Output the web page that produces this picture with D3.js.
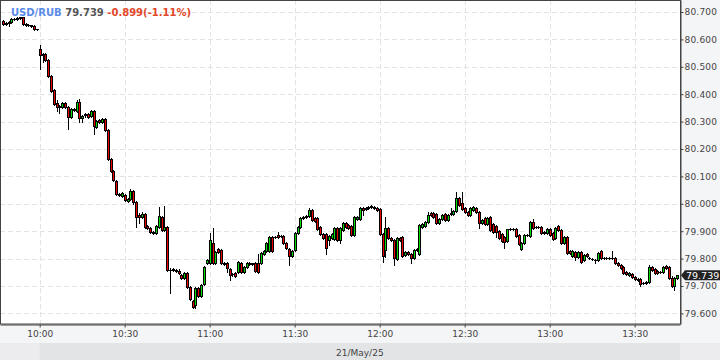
<!DOCTYPE html>
<html>
<head>
<meta charset="utf-8">
<script src="https://cdn.jsdelivr.net/npm/d3@7"></script>
<style>
  html, body { margin: 0; padding: 0; background: #f4f5f7; }
  svg { display: block; font-family: "DejaVu Sans", sans-serif; }
</style>
</head>
<body>
<svg width="720" height="360"></svg>
<script>
// 1-minute bars, first one at 09:47
var firstBar = "09:47";

var opens = [
  80.667, 80.656, 80.660, 80.664, 80.675, 80.675, 80.678, 80.682, 80.656, 80.653, 80.653, 80.649, 80.638,
  80.565, 80.547, 80.547, 80.525, 80.467, 80.415, 80.368, 80.357, 80.353, 80.368,
  80.353, 80.317, 80.346, 80.339, 80.372, 80.313, 80.324, 80.328, 80.321, 80.339,
  80.280, 80.306, 80.299, 80.310, 80.269, 80.164, 80.120, 80.083, 80.036, 80.029,
  80.032, 80.010, 80.018, 80.047, 80.007, 79.959, 79.952, 79.963, 79.919, 79.912,
  79.897, 79.894, 79.915, 79.952, 79.904, 79.915, 79.758, 79.762, 79.758, 79.755,
  79.740, 79.729, 79.748, 79.696, 79.645, 79.631, 79.693, 79.664, 79.707, 79.784,
  79.784, 79.857, 79.784, 79.835, 79.831, 79.784, 79.784, 79.762, 79.744, 79.748,
  79.751, 79.784, 79.751, 79.769, 79.784, 79.780, 79.784, 79.784, 79.784, 79.817,
  79.828, 79.828, 79.879, 79.879, 79.886, 79.883, 79.883, 79.857, 79.835, 79.810,
  79.831, 79.894, 79.915, 79.948, 79.952, 79.956, 79.977, 79.948, 79.948, 79.915,
  79.890, 79.890, 79.868, 79.875, 79.872, 79.912, 79.868, 79.904, 79.930, 79.923,
  79.919, 79.886, 79.945, 79.945, 79.985, 79.981, 79.985, 79.988, 79.988, 79.985,
  79.981, 79.890, 79.831, 79.912, 79.875, 79.868, 79.799, 79.875, 79.879, 79.813,
  79.824, 79.817, 79.802, 79.831, 79.817, 79.915, 79.919, 79.934, 79.967, 79.967,
  79.963, 79.930, 79.945, 79.963, 79.941, 79.967, 79.963, 79.974, 80.021, 80.003,
  79.985, 79.970, 79.959, 79.977, 79.985, 79.970, 79.930, 79.948, 79.926, 79.952,
  79.926, 79.919, 79.901, 79.890, 79.879, 79.864, 79.908, 79.908, 79.908, 79.886,
  79.835, 79.857, 79.886, 79.883, 79.934, 79.915, 79.915, 79.915, 79.897, 79.894,
  79.908, 79.894, 79.875, 79.919, 79.904, 79.857, 79.879, 79.828, 79.810, 79.824,
  79.806, 79.824, 79.795, 79.817, 79.802, 79.799, 79.795, 79.795, 79.828, 79.802,
  79.802, 79.802, 79.802, 79.802, 79.784, 79.777, 79.769, 79.751, 79.740, 79.744,
  79.733, 79.726, 79.726, 79.711, 79.711, 79.715, 79.769, 79.762, 79.755, 79.751,
  79.751, 79.773, 79.769, 79.729, 79.700, 79.729
];

var highs = [
  80.671, 80.664, 80.667, 80.678, 80.678, 80.682, 80.682, 80.682, 80.660, 80.656, 80.653, 80.653, 80.638,
  80.580, 80.551, 80.551, 80.529, 80.470, 80.419, 80.379, 80.361, 80.372, 80.372,
  80.357, 80.350, 80.350, 80.379, 80.383, 80.324, 80.332, 80.332, 80.342, 80.342,
  80.306, 80.310, 80.313, 80.313, 80.273, 80.167, 80.123, 80.087, 80.039, 80.043,
  80.036, 80.021, 80.054, 80.050, 80.010, 79.967, 79.970, 79.967, 79.923, 79.915,
  79.901, 79.923, 79.988, 79.956, 79.992, 79.919, 79.766, 79.766, 79.762, 79.762,
  79.744, 79.751, 79.751, 79.700, 79.649, 79.696, 79.696, 79.707, 79.773, 79.799,
  79.894, 79.912, 79.828, 79.839, 79.835, 79.788, 79.788, 79.766, 79.748, 79.751,
  79.791, 79.788, 79.773, 79.788, 79.788, 79.784, 79.788, 79.817, 79.824, 79.831,
  79.861, 79.883, 79.883, 79.883, 79.897, 79.886, 79.886, 79.861, 79.839, 79.831,
  79.897, 79.919, 79.952, 79.956, 79.959, 79.985, 79.981, 79.952, 79.952, 79.919,
  79.894, 79.894, 79.886, 79.894, 79.915, 79.915, 79.915, 79.934, 79.934, 79.926,
  79.923, 79.956, 79.956, 79.988, 79.988, 79.988, 79.992, 79.996, 79.992, 79.988,
  79.985, 79.894, 79.952, 79.915, 79.879, 79.872, 79.879, 79.879, 79.883, 79.828,
  79.828, 79.821, 79.835, 79.839, 79.926, 79.930, 79.937, 79.970, 79.970, 79.970,
  79.967, 79.948, 79.963, 79.967, 79.963, 79.985, 79.977, 80.043, 80.025, 80.043,
  79.988, 79.974, 79.988, 79.992, 79.988, 79.974, 79.945, 79.952, 79.952, 79.956,
  79.930, 79.923, 79.904, 79.894, 79.883, 79.908, 79.912, 79.912, 79.912, 79.890,
  79.861, 79.890, 79.890, 79.937, 79.945, 79.919, 79.919, 79.919, 79.901, 79.912,
  79.912, 79.897, 79.915, 79.923, 79.908, 79.883, 79.883, 79.831, 79.831, 79.828,
  79.828, 79.828, 79.817, 79.821, 79.806, 79.802, 79.799, 79.824, 79.831, 79.806,
  79.806, 79.806, 79.828, 79.806, 79.788, 79.780, 79.773, 79.755, 79.751, 79.748,
  79.737, 79.729, 79.729, 79.715, 79.718, 79.777, 79.773, 79.766, 79.758, 79.755,
  79.773, 79.777, 79.773, 79.737, 79.733, 79.740
];

var lows = [
  80.653, 80.653, 80.649, 80.660, 80.671, 80.671, 80.675, 80.653, 80.649, 80.649, 80.645, 80.634, 80.634,
  80.492, 80.518, 80.521, 80.463, 80.408, 80.361, 80.339, 80.332, 80.350, 80.350,
  80.273, 80.313, 80.339, 80.335, 80.299, 80.299, 80.317, 80.313, 80.317, 80.255,
  80.277, 80.295, 80.295, 80.266, 80.160, 80.116, 80.083, 80.032, 80.029, 80.025,
  80.010, 80.007, 80.014, 79.999, 79.915, 79.930, 79.948, 79.912, 79.908, 79.894,
  79.890, 79.890, 79.912, 79.901, 79.901, 79.755, 79.675, 79.755, 79.751, 79.744,
  79.726, 79.726, 79.693, 79.649, 79.620, 79.620, 79.660, 79.660, 79.704, 79.780,
  79.780, 79.780, 79.780, 79.821, 79.780, 79.777, 79.751, 79.722, 79.737, 79.733,
  79.748, 79.748, 79.748, 79.766, 79.777, 79.777, 79.751, 79.748, 79.780, 79.813,
  79.824, 79.824, 79.824, 79.875, 79.875, 79.879, 79.853, 79.835, 79.777, 79.806,
  79.828, 79.890, 79.912, 79.945, 79.948, 79.952, 79.937, 79.934, 79.904, 79.886,
  79.872, 79.817, 79.850, 79.872, 79.868, 79.864, 79.857, 79.901, 79.912, 79.908,
  79.883, 79.883, 79.941, 79.941, 79.959, 79.977, 79.981, 79.985, 79.981, 79.974,
  79.886, 79.788, 79.806, 79.872, 79.864, 79.777, 79.795, 79.864, 79.806, 79.810,
  79.813, 79.784, 79.799, 79.828, 79.813, 79.912, 79.915, 79.930, 79.956, 79.948,
  79.926, 79.926, 79.941, 79.937, 79.937, 79.959, 79.959, 79.970, 79.992, 79.977,
  79.967, 79.956, 79.956, 79.974, 79.967, 79.912, 79.926, 79.923, 79.923, 79.901,
  79.894, 79.879, 79.872, 79.861, 79.839, 79.861, 79.904, 79.904, 79.879, 79.850,
  79.831, 79.853, 79.883, 79.879, 79.908, 79.912, 79.912, 79.890, 79.890, 79.890,
  79.883, 79.868, 79.872, 79.901, 79.853, 79.853, 79.817, 79.817, 79.806, 79.795,
  79.802, 79.784, 79.791, 79.806, 79.799, 79.795, 79.784, 79.791, 79.799, 79.799,
  79.799, 79.799, 79.799, 79.780, 79.773, 79.762, 79.744, 79.740, 79.737, 79.729,
  79.722, 79.718, 79.700, 79.707, 79.707, 79.711, 79.755, 79.744, 79.744, 79.748,
  79.748, 79.762, 79.726, 79.696, 79.686, 79.726
];

var closes = [
  80.656, 80.660, 80.664, 80.675, 80.675, 80.678, 80.682, 80.656, 80.653, 80.653, 80.649, 80.638, 80.638,
  80.543, 80.543, 80.525, 80.467, 80.412, 80.364, 80.353, 80.353, 80.368, 80.353,
  80.317, 80.346, 80.342, 80.372, 80.313, 80.321, 80.328, 80.317, 80.339, 80.284,
  80.302, 80.299, 80.310, 80.269, 80.164, 80.120, 80.087, 80.036, 80.032, 80.039,
  80.014, 80.018, 80.047, 80.007, 79.952, 79.952, 79.963, 79.915, 79.912, 79.897,
  79.894, 79.919, 79.956, 79.904, 79.915, 79.758, 79.758, 79.758, 79.755, 79.748,
  79.729, 79.748, 79.696, 79.653, 79.623, 79.693, 79.664, 79.704, 79.769, 79.795,
  79.868, 79.784, 79.824, 79.824, 79.784, 79.780, 79.766, 79.740, 79.744, 79.737,
  79.788, 79.751, 79.769, 79.784, 79.780, 79.784, 79.755, 79.751, 79.821, 79.828,
  79.857, 79.879, 79.828, 79.879, 79.879, 79.883, 79.857, 79.839, 79.810, 79.828,
  79.894, 79.915, 79.948, 79.952, 79.956, 79.977, 79.941, 79.937, 79.908, 79.890,
  79.875, 79.839, 79.883, 79.890, 79.912, 79.868, 79.912, 79.930, 79.915, 79.912,
  79.886, 79.952, 79.952, 79.985, 79.977, 79.985, 79.988, 79.992, 79.985, 79.977,
  79.890, 79.810, 79.912, 79.875, 79.868, 79.802, 79.875, 79.868, 79.810, 79.824,
  79.817, 79.802, 79.831, 79.835, 79.923, 79.926, 79.934, 79.959, 79.959, 79.952,
  79.930, 79.945, 79.959, 79.941, 79.959, 79.963, 79.974, 80.021, 79.996, 79.981,
  79.970, 79.959, 79.985, 79.988, 79.970, 79.930, 79.941, 79.926, 79.948, 79.904,
  79.897, 79.897, 79.875, 79.864, 79.861, 79.908, 79.908, 79.908, 79.883, 79.853,
  79.857, 79.886, 79.886, 79.934, 79.912, 79.915, 79.915, 79.894, 79.894, 79.908,
  79.886, 79.872, 79.912, 79.904, 79.857, 79.879, 79.821, 79.821, 79.828, 79.806,
  79.824, 79.788, 79.813, 79.810, 79.802, 79.799, 79.795, 79.821, 79.802, 79.802,
  79.802, 79.802, 79.802, 79.784, 79.777, 79.766, 79.748, 79.744, 79.748, 79.733,
  79.726, 79.722, 79.707, 79.711, 79.715, 79.769, 79.758, 79.748, 79.748, 79.751,
  79.769, 79.766, 79.729, 79.700, 79.729, 79.739
];

var priceTicks = [79.6, 79.7, 79.8, 79.9, 80.0, 80.1, 80.2, 80.3, 80.4, 80.5, 80.6, 80.7];
var timeTicks = ["10:00", "10:30", "11:00", "11:30", "12:00", "12:30", "13:00", "13:30"];
var viewStart = "09:46", viewEnd = "13:46";

var symbol = "USD/RUB", lastText = "79.739", changeText = "-0.899(-1.11%)";
var lastPrice = 79.739;
var sessionDate = "21/May/25";

var svg = d3.select("svg"),
  plotW = 680,
  plotH = 324;

var parseTime = d3.timeParse("%H:%M");
var t0 = parseTime(firstBar);

var n = Math.min(opens.length, highs.length, lows.length, closes.length);
var bars = [];
for (var i = 0; i < n; i++) {
  bars.push({
    t: d3.timeMinute.offset(t0, i),
    o: opens[i], h: highs[i], l: lows[i], c: closes[i]
  });
}

var x = d3.scaleTime()
  .domain([parseTime(viewStart), parseTime(viewEnd)])
  .range([0, plotW]);

var y = d3.scaleLinear()
  .domain([79.5613, 80.7438])
  .range([plotH, 0]);

// backgrounds
svg.append("rect").attr("x", 0).attr("y", 0).attr("width", 720).attr("height", 360).attr("fill", "#f4f5f7");
svg.append("rect").attr("x", 0).attr("y", 343).attr("width", 720).attr("height", 17).attr("fill", "#ececee");
svg.append("rect").attr("x", x(parseTime("10:00"))).attr("y", 343)
  .attr("width", plotW - x(parseTime("10:00"))).attr("height", 17).attr("fill", "#e3e4e6");
svg.append("rect").attr("x", 0).attr("y", 0).attr("width", plotW).attr("height", plotH).attr("fill", "#fff");

// grid
var grid = svg.append("g").attr("class", "grid")
  .attr("stroke", "#e3e3e3")
  .attr("stroke-dasharray", "5,3");

grid.selectAll("line.h")
  .data(priceTicks)
  .enter()
  .append("line")
  .attr("class", "h")
  .attr("x1", 0)
  .attr("x2", plotW)
  .attr("y1", function (d) { return Math.round(y(d)) + 0.5; })
  .attr("y2", function (d) { return Math.round(y(d)) + 0.5; });

grid.selectAll("line.v")
  .data(timeTicks)
  .enter()
  .append("line")
  .attr("class", "v")
  .attr("y1", 0)
  .attr("y2", plotH)
  .attr("x1", function (d) { return Math.round(x(parseTime(d))) + 0.5; })
  .attr("x2", function (d) { return Math.round(x(parseTime(d))) + 0.5; });

// candles
var candle = svg.append("g").attr("class", "candles")
  .selectAll("g")
  .data(bars)
  .enter()
  .append("g");

function cx(d) { return Math.round(x(d.t)); }

candle.append("line")
  .attr("x1", function (d) { return cx(d) + 0.5; })
  .attr("x2", function (d) { return cx(d) + 0.5; })
  .attr("y1", function (d) { return Math.round(y(d.h)); })
  .attr("y2", function (d) { return Math.round(y(d.l)) + 1; })
  .attr("stroke", "#000")
  .attr("stroke-width", 1);

candle.each(function (d) {
  var g = d3.select(this);
  var yo = Math.round(y(d.o)), yc = Math.round(y(d.c));
  if (yo === yc) {
    g.append("line")
      .attr("x1", cx(d) - 1)
      .attr("x2", cx(d) + 2)
      .attr("y1", yo + 0.5)
      .attr("y2", yo + 0.5)
      .attr("stroke", "#000");
  } else {
    g.append("rect")
      .attr("x", cx(d) - 0.5)
      .attr("y", Math.min(yo, yc) + 0.5)
      .attr("width", 2)
      .attr("height", Math.abs(yo - yc))
      .attr("fill", d.c > d.o ? "#00dd00" : "#ee0000")
      .attr("stroke", "#000")
      .attr("stroke-width", 1);
  }
});

// frame
svg.append("rect")
  .attr("x", 0.5).attr("y", 0.5)
  .attr("width", plotW).attr("height", plotH - 0.5)
  .attr("fill", "none")
  .attr("stroke", "#444");

// axes
var yAxis = svg.append("g")
  .attr("transform", "translate(" + (plotW + 0.5) + ",0)")
  .call(d3.axisRight(y)
    .tickValues(priceTicks)
    .tickFormat(d3.format(".3f"))
    .tickSize(3)
    .tickSizeOuter(0)
    .tickPadding(1));

var xAxis = svg.append("g")
  .attr("transform", "translate(0," + (plotH + 0.5) + ")")
  .call(d3.axisBottom(x)
    .tickValues(timeTicks.map(parseTime))
    .tickFormat(d3.timeFormat("%H:%M"))
    .tickSize(3)
    .tickSizeOuter(0));

[yAxis, xAxis].forEach(function (a) {
  a.select(".domain").attr("stroke", "#444");
  a.selectAll(".tick line").attr("stroke", "#444");
  a.selectAll(".tick text")
    .attr("fill", "#444")
    .style("font-size", "9px")
    .style("font-family", "DejaVu Sans, sans-serif");
});
yAxis.selectAll(".tick text").style("letter-spacing", "0.2px");

// last price marker
var yl = y(lastPrice);
svg.append("path")
  .attr("d", "M" + (plotW + 1) + "," + yl + "L" + (plotW + 5) + "," + (yl - 5) + "L720," + (yl - 5) +
    "L720," + (yl + 5) + "L" + (plotW + 5) + "," + (yl + 5) + "Z")
  .attr("fill", "#222");
svg.append("text")
  .attr("x", plotW + 6)
  .attr("y", yl)
  .attr("dy", "0.36em")
  .attr("fill", "#fff")
  .style("font-size", "9.5px")
  .text(lastText);

// header
var head = svg.append("text")
  .attr("x", 11)
  .attr("y", 15.5)
  .style("font-size", "10px")
  .style("font-weight", "bold");
head.append("tspan").attr("fill", "#5b8be8").text(symbol + " ");
head.append("tspan").attr("fill", "#555").text(lastText + " ");
head.append("tspan").attr("fill", "#e2472a").text(changeText);

// session date
svg.append("text")
  .attr("x", (x(parseTime("10:00")) + plotW) / 2)
  .attr("y", 355.5)
  .attr("text-anchor", "middle")
  .attr("fill", "#444")
  .style("font-size", "9px")
  .text(sessionDate);
</script>
</body>
</html>
